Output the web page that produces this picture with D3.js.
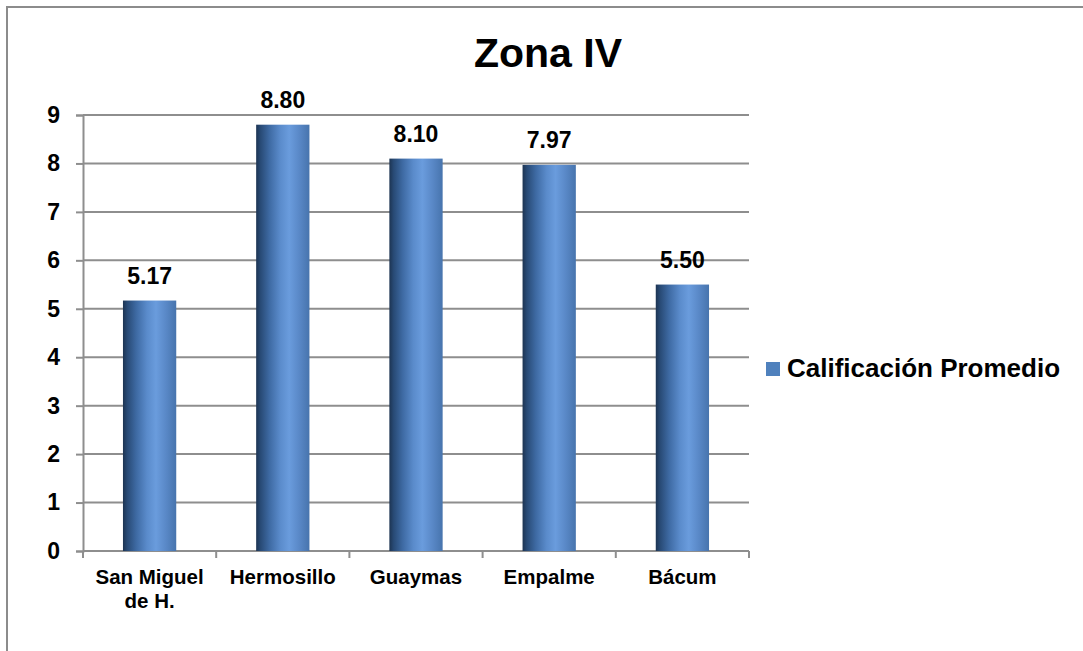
<!DOCTYPE html>
<html>
<head>
<meta charset="utf-8">
<script src="https://cdn.jsdelivr.net/npm/d3@7"></script>
<style>
  html, body { margin: 0; padding: 0; background: #fff; }
  svg { display: block; font-family: Arial, "Liberation Sans", sans-serif; }
</style>
</head>
<body>
<svg id="chart" width="1083" height="651"></svg>
<script>
// Zona IV – average grade per municipality
const categories = ["San Miguel de H.", "Hermosillo", "Guaymas", "Empalme", "Bácum"];
const categoryLines = [["San Miguel", "de H."], ["Hermosillo"], ["Guaymas"], ["Empalme"], ["Bácum"]];
const values = [5.17, 8.80, 8.10, 7.97, 5.50];
const yTicks = [0, 1, 2, 3, 4, 5, 6, 7, 8, 9];
const seriesName = "Calificación Promedio";
const chartTitle = "Zona IV";

const svg = d3.select("#chart");
const W = 1083, H = 651;
const plot = { left: 83, right: 749, top: 115, bottom: 551 };

// outer frame
svg.append("rect")
  .attr("x", 7).attr("y", 7)
  .attr("width", W + 20).attr("height", H + 20)
  .attr("fill", "#fff")
  .attr("stroke", "#8c8c8c").attr("stroke-width", 2);

const x = d3.scaleBand()
  .domain(categories)
  .range([plot.left, plot.right])
  .paddingInner(0.6)
  .paddingOuter(0.3);

const y = d3.scaleLinear()
  .domain([0, 9])
  .range([plot.bottom, plot.top]);

// horizontal bar gradient
const defs = svg.append("defs");
const grad = defs.append("linearGradient")
  .attr("id", "barGrad")
  .attr("x1", "0%").attr("x2", "100%").attr("y1", "0%").attr("y2", "0%");
[
  [0, "#1d3452"], [0.08, "#284a75"], [0.25, "#3e6aa3"],
  [0.45, "#5a8bcb"], [0.62, "#6a9cdd"], [0.8, "#5a89c8"], [1, "#4774ad"]
].forEach(([o, c]) => grad.append("stop").attr("offset", o).attr("stop-color", c));

// gridlines
svg.append("g")
  .selectAll("line")
  .data(yTicks.filter(d => d > 0))
  .join("line")
  .attr("x1", plot.left).attr("x2", plot.right)
  .attr("y1", d => y(d)).attr("y2", d => y(d))
  .attr("stroke", "#8e8e8e").attr("stroke-width", 2);

// y axis
const yAxis = svg.append("g")
  .attr("transform", `translate(${plot.left},0)`)
  .call(d3.axisLeft(y).tickValues(yTicks).tickSize(7).tickPadding(16).tickFormat(d3.format("d")));
yAxis.select(".domain").attr("stroke", "#8e8e8e").attr("stroke-width", 2);
yAxis.selectAll(".tick line").attr("stroke", "#8e8e8e").attr("stroke-width", 2);
yAxis.selectAll(".tick text")
  .attr("fill", "#000")
  .attr("font-size", "23px")
  .attr("font-weight", "bold")
  .attr("font-family", "Arial, 'Liberation Sans', sans-serif");

// x axis baseline with tick marks between categories
const boundaries = d3.range(categories.length + 1).map(i => plot.left + i * x.step());
svg.append("line")
  .attr("x1", plot.left).attr("x2", plot.right)
  .attr("y1", y(0)).attr("y2", y(0))
  .attr("stroke", "#8e8e8e").attr("stroke-width", 2);
svg.append("g")
  .selectAll("line")
  .data(boundaries)
  .join("line")
  .attr("x1", d => d).attr("x2", d => d)
  .attr("y1", y(0)).attr("y2", y(0) + 7)
  .attr("stroke", "#8e8e8e").attr("stroke-width", 2);

// bars
svg.append("g")
  .selectAll("rect")
  .data(values)
  .join("rect")
  .attr("x", (d, i) => x(categories[i]))
  .attr("y", d => y(d))
  .attr("width", x.bandwidth())
  .attr("height", d => y(0) - y(d))
  .attr("fill", "url(#barGrad)");

// value labels
svg.append("g")
  .selectAll("text")
  .data(values)
  .join("text")
  .attr("x", (d, i) => x(categories[i]) + x.bandwidth() / 2)
  .attr("y", d => y(d) - 17)
  .attr("text-anchor", "middle")
  .attr("font-size", "23px")
  .attr("font-weight", "bold")
  .text(d => d.toFixed(2));

// category labels
const catG = svg.append("g");
categoryLines.forEach((lines, i) => {
  const cx = x(categories[i]) + x.bandwidth() / 2;
  const t = catG.append("text")
    .attr("x", cx)
    .attr("y", 584)
    .attr("text-anchor", "middle")
    .attr("font-size", "20.5px")
    .attr("font-weight", "bold");
  lines.forEach((ln, j) => {
    t.append("tspan")
      .attr("x", cx)
      .attr("dy", j === 0 ? 0 : 23.5)
      .text(ln);
  });
});

// title
svg.append("text")
  .attr("x", 548).attr("y", 67)
  .attr("text-anchor", "middle")
  .attr("font-size", "41px")
  .attr("font-weight", "bold")
  .text(chartTitle);

// legend
const lg = svg.append("g").attr("transform", "translate(766,362)");
lg.append("rect").attr("width", 14).attr("height", 14).attr("fill", "#4f81bd");
lg.append("text")
  .attr("x", 21).attr("y", 15)
  .attr("font-size", "26px")
  .attr("font-weight", "bold")
  .text(seriesName);
</script>
</body>
</html>
